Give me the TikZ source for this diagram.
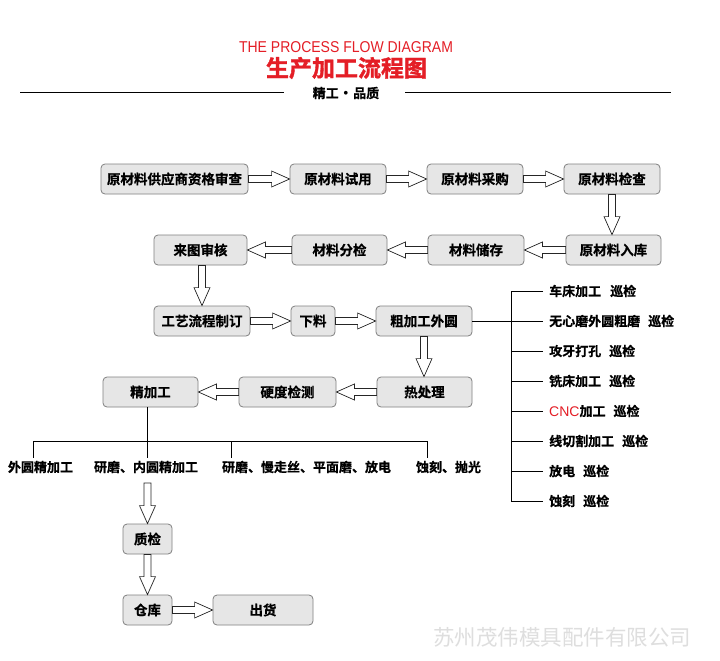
\documentclass[tikz,border=0pt]{standalone}
\usepackage{fontspec}
\setmainfont{Liberation Sans}
\newfontfamily\cjk{Noto Sans CJK SC}[BoldFont={Noto Sans CJK SC Bold}, BoldFeatures={FakeBold=0.6}]
\newfontfamily\cjktitle{Noto Sans CJK SC Bold}[FakeBold=1.5]
\usetikzlibrary{calc}
\definecolor{boxfill}{HTML}{E6E6E6}
\definecolor{boxline}{HTML}{808080}
\definecolor{titlered}{HTML}{E41E26}
\tikzset{
  box/.style={draw=boxline, fill=boxfill, rounded corners=4pt, line width=0.8pt,
    minimum height=30pt, inner sep=0pt, font=\cjk\bfseries\fontsize{13.5}{14}\selectfont},
  blk/.style={draw=black!85, fill=white, line width=0.7pt, line join=miter},
  tree/.style={draw=black, line width=0.8pt},
  lab/.style={font=\cjk\bfseries\fontsize{13}{14}\selectfont, inner sep=3pt},
  item/.style={font=\cjk\bfseries\fontsize{13}{14}\selectfont, inner ysep=3pt, inner xsep=6pt, anchor=west},
}
\newcommand\blockarrow[2]{%
  \coordinate (ba1) at ($(#2)!18pt!(#1)$);
  \draw[blk] ($(#1)!3.5pt!90:(#2)$) -- ($(ba1)!3.5pt!-90:(#1)$) -- ($(ba1)!8pt!-90:(#1)$)
    -- (#2) -- ($(ba1)!8pt!90:(#1)$) -- ($(ba1)!3.5pt!90:(#1)$) -- ($(#1)!3.5pt!-90:(#2)$) -- cycle;}
\begin{document}
\begin{tikzpicture}[x=1pt,y=-1pt]
\useasboundingbox (0,0) rectangle (720,661);
\fill[white] (0,0) rectangle (720,661);
% header
\node[font=\fontsize{14}{16}\selectfont, text=titlered, inner sep=0pt, yscale=1.12] (t1) at (346,47) {THE PROCESS FLOW DIAGRAM};
\node[font=\cjktitle\fontsize{23}{24}\selectfont, text=titlered, inner sep=0pt] (t2) at (346.5,68) {生产加工流程图};
\node[font=\cjk\bfseries\fontsize{13}{14}\selectfont, inner sep=0pt] (t3) at (346,93) {精工\hspace{5pt}{\normalfont\bfseries •}\hspace{5pt}品质};
\coordinate (hl1) at (20,92); \coordinate (hl2) at (284,92);
\coordinate (hr1) at (405,92); \coordinate (hr2) at (671,92);
\draw[tree] (hl1) -- (hl2);
\draw[tree] (hr1) -- (hr2);
% row 1
\node[box, minimum width=147pt] (b1) at (174.5,179) {原材料供应商资格审查};
\node[box, minimum width=96pt] (b2) at (338,179) {原材料试用};
\node[box, minimum width=96pt] (b3) at (475,179) {原材料采购};
\node[box, minimum width=96pt] (b4) at (612,179) {原材料检查};
% row 2
\node[box, minimum width=93pt] (c1) at (200.5,250) {来图审核};
\node[box, minimum width=95pt] (c2) at (339.5,250) {材料分检};
\node[box, minimum width=96pt] (c3) at (476,250) {材料储存};
\node[box, minimum width=95pt] (c4) at (613.5,250) {原材料入库};
% row 3
\node[box, minimum width=96pt] (d1) at (202,321) {工艺流程制订};
\node[box, minimum width=44pt] (d2) at (313,321) {下料};
\node[box, minimum width=96pt] (d3) at (424,321) {粗加工外圆};
% row 4
\node[box, minimum width=95pt] (e1) at (150.5,392) {精加工};
\node[box, minimum width=97pt] (e2) at (287.5,392) {硬度检测};
\node[box, minimum width=95pt] (e3) at (424.5,392) {热处理};
% bottom
\node[box, minimum width=49pt] (q) at (147.5,539) {质检};
\node[box, minimum width=49pt] (w) at (147.5,610) {仓库};
\node[box, minimum width=100pt] (s) at (263,610) {出货};
% arrows
\blockarrow{b1.east}{b2.west}
\blockarrow{b2.east}{b3.west}
\blockarrow{b3.east}{b4.west}
\blockarrow{b4.south}{c4.north -| b4.south}
\blockarrow{c4.west}{c3.east}
\blockarrow{c3.west}{c2.east}
\blockarrow{c2.west}{c1.east}
\blockarrow{d1.north |- c1.south}{d1.north}
\blockarrow{d1.east}{d2.west}
\blockarrow{d2.east}{d3.west}
\blockarrow{d3.south}{e3.north -| d3.south}
\blockarrow{e3.west}{e2.east}
\blockarrow{e2.west}{e1.east}
% right list
\coordinate (sx) at (511,0);
\node[item] (r1) at (543,291) {车床加工\hspace{9pt}巡检};
\node[item] (r2) at (543,321) {无心磨外圆粗磨\hspace{8pt}巡检};
\node[item] (r3) at (543,351) {攻牙打孔\hspace{8pt}巡检};
\node[item] (r4) at (543,381) {铣床加工\hspace{8pt}巡检};
\node[item] (r5) at (543,411) {\textcolor{titlered}{\normalfont\fontsize{14}{14}\selectfont CNC}加工\hspace{8pt}巡检};
\node[item] (r6) at (543,441) {线切割加工\hspace{8pt}巡检};
\node[item] (r7) at (543,471) {放电\hspace{8pt}巡检};
\node[item] (r8) at (543,501) {蚀刻\hspace{8pt}巡检};
\draw[tree] (r1.west) -- (r1.west -| sx) -- (r8.west -| sx) -- (r8.west);
\foreach \i in {3,...,7} { \draw[tree] (r\i.west -| sx) -- (r\i.west); }
\draw[tree] (d3.east) -- (r2.west);
% bottom branch
\node[lab] (l1) at (40.5,467) {外圆精加工};
\node[lab] (l2) at (146,467) {研磨、内圆精加工};
\node[lab] (l3) at (306.5,467) {研磨、慢走丝、平面磨、放电};
\node[lab] (l4) at (448.5,467) {蚀刻、抛光};
\coordinate (j1) at (33,441);
\coordinate (j2) at (147,441);
\coordinate (j3) at (231,441);
\coordinate (j4) at (427,441);
\draw[tree] (e1.south -| j2) -- (j2 |- l2.north);
\draw[tree] (j1) -- (j4);
\draw[tree] (j1) -- (j1 |- l1.north);
\draw[tree] (j3) -- (j3 |- l3.north);
\draw[tree] (j4) -- (j4 |- l4.north);
\coordinate (qa) at (147.5,483);
\blockarrow{qa}{q.north}
\blockarrow{q.south}{w.north}
\blockarrow{w.east}{s.west}
% watermark
\node[font=\cjk\fontsize{21.5}{22}\selectfont, text=black!13, inner sep=0pt] (wm) at (562,637) {苏州茂伟模具配件有限公司};
\end{tikzpicture}
\end{document}
